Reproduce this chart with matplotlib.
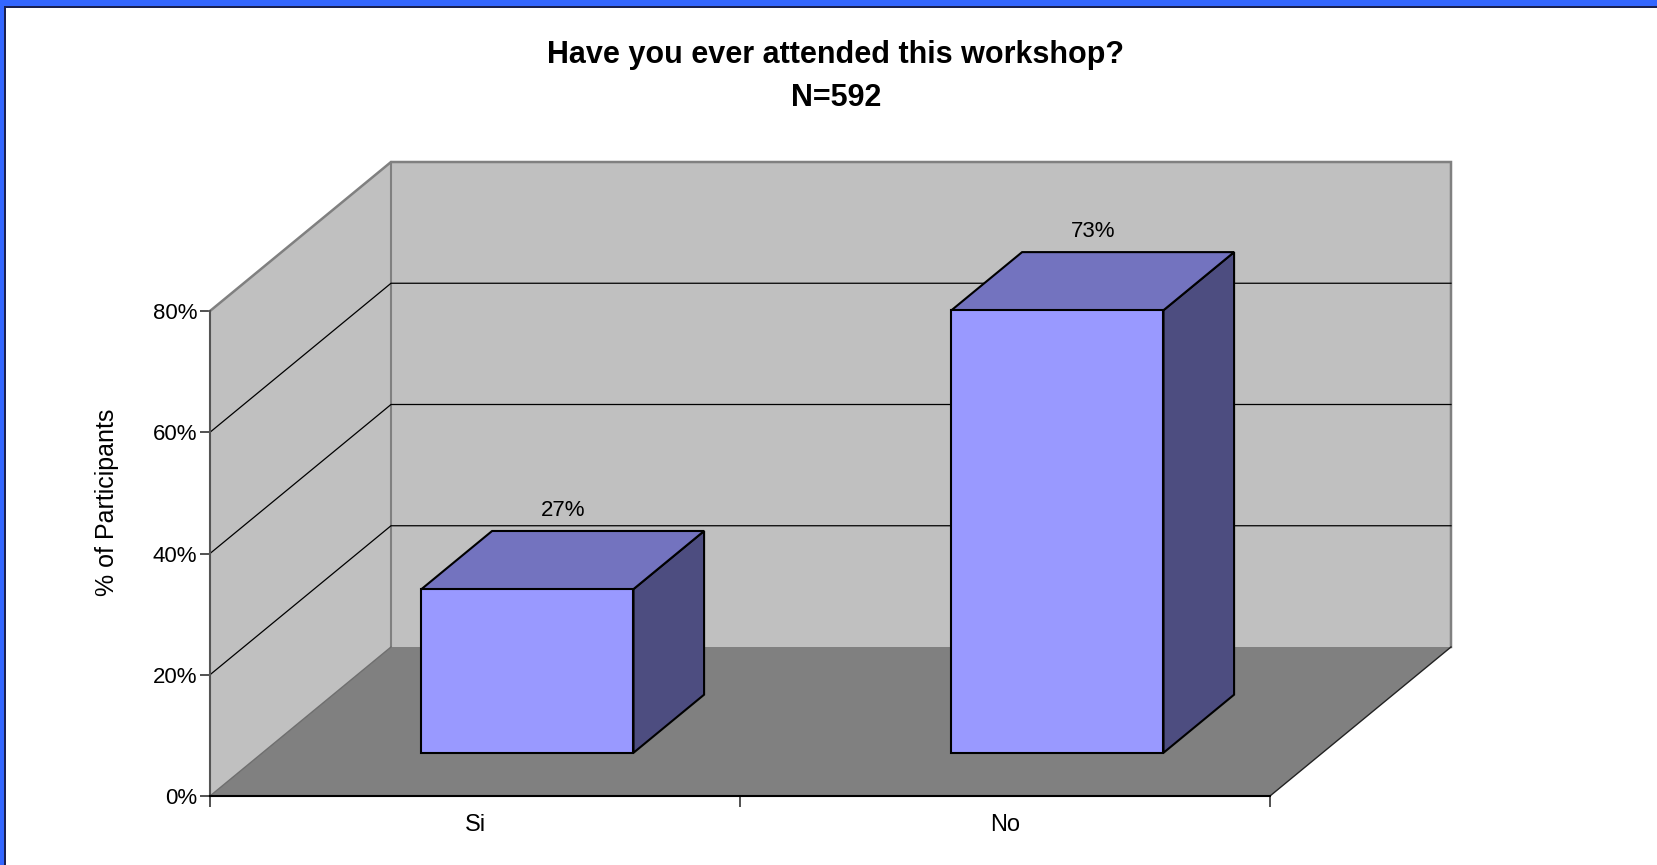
import matplotlib
matplotlib.use("Agg")
import matplotlib.pyplot as plt
from matplotlib.patches import Polygon, Rectangle

plt.rcParams['font.family'] = ['Liberation Sans', 'DejaVu Sans']

# data
categories = ["Si", "No"]
values = [27, 73]
labels = ["27%", "73%"]
yticks = [0, 20, 40, 60, 80]
ytick_labels = ["0%", "20%", "40%", "60%", "80%"]
title1 = "Have you ever attended this workshop?"
title2 = "N=592"

W, H = 1658, 865
fig = plt.figure(figsize=(W / 100, H / 100), dpi=100)
fig.patch.set_facecolor("white")

# front plane of the 3D box
ax = fig.add_axes([210 / W, (H - 796) / H, 1060 / W, 485 / H])
ax.set_xlim(0, 2)
ax.set_ylim(0, 80)
ax.patch.set_visible(False)

# depth offset in data units
dx = 181 / 530
dy = 149 / (485 / 80)
d0, d1 = 0.29, 0.68
bw = 0.4

wall = "#c0c0c0"
floor = "#808080"
edge = "#808080"

def poly(pts, fc, ec="none", lw=1.0, z=1):
    p = Polygon(pts, closed=True, facecolor=fc, edgecolor=ec, linewidth=lw,
                clip_on=False, zorder=z, joinstyle="miter")
    ax.add_patch(p)

ymax = yticks[-1]
# floor
poly([(0, 0), (2, 0), (2 + dx, dy), (dx, dy)], floor, z=1)
# side wall
poly([(0, 0), (0, ymax), (dx, ymax + dy), (dx, dy)], wall, z=1)
# back wall
poly([(dx, dy), (dx, ymax + dy), (2 + dx, ymax + dy), (2 + dx, dy)], wall, z=1)
# wall edges
ax.plot([0, dx, 2 + dx, 2 + dx], [ymax, ymax + dy, ymax + dy, dy], color=edge,
        lw=1.8, clip_on=False, zorder=2, solid_joinstyle="miter")
ax.plot([dx, dx], [dy, ymax + dy], color=edge, lw=1.5, clip_on=False, zorder=2)
ax.plot([0, dx], [0, dy], color="#6e6e6e", lw=1.0, clip_on=False, zorder=2)
ax.plot([2, 2 + dx], [0, dy], color="#222222", lw=1.0, clip_on=False, zorder=2)

# gridlines on side and back walls
for v in yticks[1:-1]:
    ax.plot([0, dx, 2 + dx], [v, v + dy, v + dy], color="black", lw=0.9,
            clip_on=False, zorder=2)

# bars
front_c = "#9999ff"
top_c = "#7373bf"
side_c = "#4d4d80"
for i, v in enumerate(values):
    x0 = i + 0.5 - bw / 2 + d0 * dx
    x1 = x0 + bw
    y0 = d0 * dy
    ox = (d1 - d0) * dx
    oy = (d1 - d0) * dy
    poly([(x1, y0), (x1 + ox, y0 + oy), (x1 + ox, y0 + oy + v), (x1, y0 + v)],
         side_c, "black", 1.5, 3)
    poly([(x0, y0 + v), (x1, y0 + v), (x1 + ox, y0 + oy + v), (x0 + ox, y0 + oy + v)],
         top_c, "black", 1.5, 3)
    poly([(x0, y0), (x1, y0), (x1, y0 + v), (x0, y0 + v)], front_c, "black", 1.5, 4)
    ax.annotate(labels[i], (i + 0.5 + (d0 + d1) / 2 * dx, v + d1 * dy),
                xytext=(0, 7), textcoords="offset points", ha="center",
                va="bottom", fontsize=16, zorder=5, annotation_clip=False)

# axes styling
for s in ["top", "right"]:
    ax.spines[s].set_visible(False)
ax.spines["left"].set_color("#555555")
ax.spines["left"].set_linewidth(1.5)
ax.spines["bottom"].set_color("black")
ax.spines["bottom"].set_linewidth(1.5)
ax.spines["left"].set_zorder(2)
ax.spines["bottom"].set_zorder(2)

ax.set_yticks(yticks)
ax.set_yticklabels(ytick_labels)
ax.tick_params(axis="y", direction="out", length=7, width=1.2, color="#333333",
               labelsize=16, pad=2)
ax.set_xticks([0, 1, 2])
ax.set_xticklabels([])
ax.tick_params(axis="x", which="major", direction="out", length=8, width=1.2,
               color="#333333")
ax.set_xticks([0.5, 1.5], minor=True)
ax.set_xticklabels(categories, minor=True)
ax.tick_params(axis="x", which="minor", length=0, labelsize=17, pad=13)
ax.set_ylabel("% of Participants", fontsize=18)
ax.yaxis.set_label_coords(-0.086, 0.606)

fig.text(836 / W, 1 - 55 / H, title1, ha="center", va="center", fontsize=22,
         fontweight="bold")
fig.text(836 / W, 1 - 98 / H, title2, ha="center", va="center", fontsize=22,
         fontweight="bold")

# blue frame at top and left
fig.patches.append(Rectangle((0, 1 - 6 / H), 1, 6 / H, transform=fig.transFigure,
                             facecolor="#3366ff", edgecolor="none"))
fig.patches.append(Rectangle((5 / W, 1 - 8 / H), 1, 2 / H, transform=fig.transFigure,
                             facecolor="#1a2050", edgecolor="none"))
fig.patches.append(Rectangle((0, 0), 4 / W, 1, transform=fig.transFigure,
                             facecolor="#3366ff", edgecolor="none"))
fig.patches.append(Rectangle((4 / W, 0), 2 / W, 1 - 6 / H, transform=fig.transFigure,
                             facecolor="#1a2050", edgecolor="none"))

fig.savefig("out.png", dpi=100)
